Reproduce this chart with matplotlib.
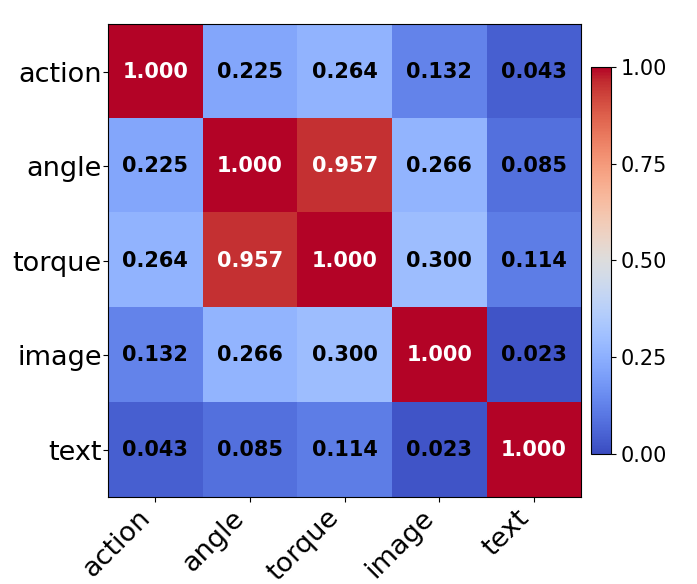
import matplotlib
matplotlib.use("Agg")
import matplotlib.pyplot as plt
import numpy as np

labels = ["action", "angle", "torque", "image", "text"]
values = [
    [1.000, 0.225, 0.264, 0.132, 0.043],
    [0.225, 1.000, 0.957, 0.266, 0.085],
    [0.264, 0.957, 1.000, 0.300, 0.114],
    [0.132, 0.266, 0.300, 1.000, 0.023],
    [0.043, 0.085, 0.114, 0.023, 1.000],
]
cbar_ticks = [0.00, 0.25, 0.50, 0.75, 1.00]

data = np.array(values)
fig = plt.figure(figsize=(6.97, 5.84), dpi=100)
ax = fig.add_axes([0.155, 0.1485, 0.679, 0.810])
im = ax.imshow(data, cmap="coolwarm", vmin=0, vmax=1, aspect="auto")
for i in range(len(labels)):
    for j in range(len(labels)):
        v = data[i, j]
        ax.text(j, i, f"{v:.3f}", ha="center", va="center",
                color="white" if v > 0.5 else "black",
                fontsize=15, fontweight="bold")
ax.set_xticks(range(len(labels)))
ax.set_yticks(range(len(labels)))
ax.set_xticklabels(labels, rotation=45, ha="right", fontsize=19.5)
ax.set_yticklabels(labels, fontsize=19.5)
ax.tick_params(axis="y", pad=1)
ax.tick_params(axis="x", pad=2)

cax = fig.add_axes([0.848, 0.223, 0.029, 0.662])
cb = fig.colorbar(im, cax=cax, ticks=cbar_ticks)
cb.ax.set_yticklabels([f"{t:.2f}" for t in cbar_ticks])
cb.ax.tick_params(labelsize=15)

fig.savefig("out.png", dpi=100)
